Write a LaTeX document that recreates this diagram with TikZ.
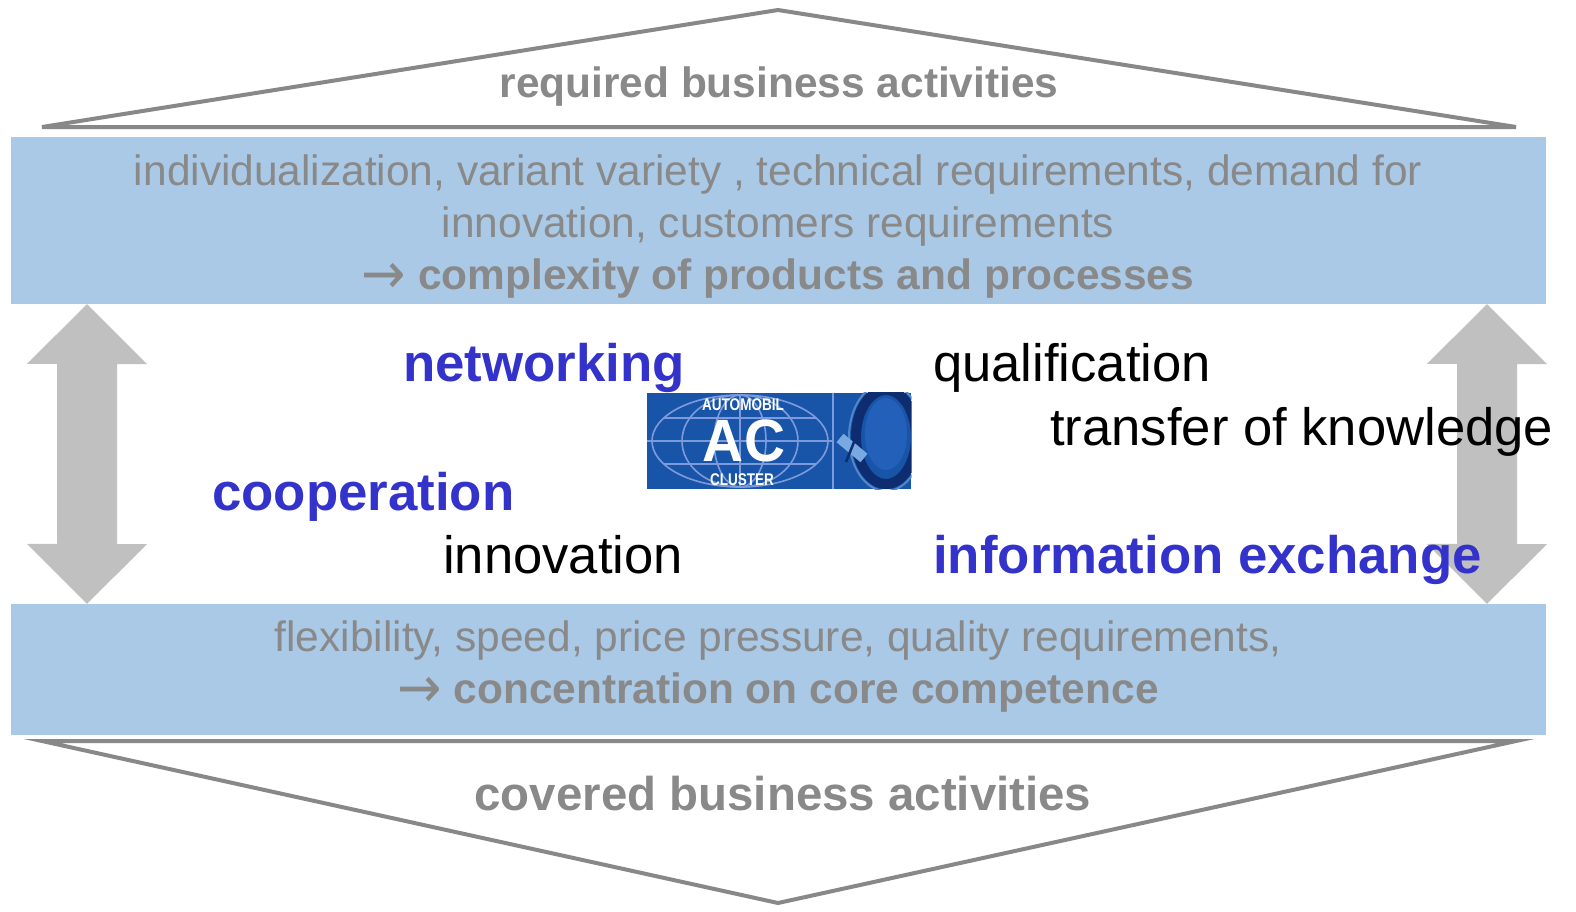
\documentclass[tikz,border=0pt]{standalone}
\usepackage{amsmath, amssymb, graphicx}
\usepackage{fontspec}
\setmainfont{Liberation Sans}
\newfontfamily\arrowfont{DejaVu Sans}
\usepackage{tikz}
\usetikzlibrary{shapes,arrows}
\usetikzlibrary{calc}
\usetikzlibrary{positioning}
\definecolor{bandblue}{RGB}{169,201,230}
\definecolor{linegray}{RGB}{136,136,136}
\definecolor{textgray}{RGB}{137,137,137}
\definecolor{arrowgray}{RGB}{192,192,192}
\definecolor{netblue}{RGB}{51,51,204}
\definecolor{logoblue}{RGB}{24,84,168}
\definecolor{gridblue}{RGB}{125,155,220}
\definecolor{rimnavy}{RGB}{14,44,112}
\definecolor{faceblue}{RGB}{34,96,186}
\definecolor{spokeblue}{RGB}{120,170,225}
\tikzstyle{band} = [fill=bandblue, rectangle, inner sep=0pt, minimum width=1535bp]
\tikzstyle{roof} = [draw=linegray, line width=4bp, line join=miter]
\tikzstyle{updown} = [fill=arrowgray, draw=none]
\tikzstyle{headline} = [anchor=base, inner sep=0pt, text=textgray,
    font=\fontsize{42.6}{50}\selectfont\bfseries]
\tikzstyle{needstext} = [anchor=base, inner sep=0pt, text=textgray,
    font=\fontsize{42.6}{50}\selectfont]
\tikzstyle{keyword} = [anchor=base west, inner sep=0pt, text=netblue,
    font=\fontsize{53}{60}\selectfont\bfseries]
\tikzstyle{topic} = [anchor=base west, inner sep=0pt, text=black,
    font=\fontsize{52.8}{60}\selectfont]
\tikzstyle{grid} = [draw=gridblue, line width=1.6bp]
\tikzstyle{logotext} = [inner sep=0pt, text=white]
\newcommand{\thento}{{\arrowfont\mdseries\raisebox{-4bp}{\scalebox{1.25}[1.35]{→}}}}

\begin{document}
\begin{tikzpicture}[x=1bp, y=-1bp, >=latex']
    \useasboundingbox (0,0) rectangle (1576,911);
    % We start by placing the bands
    \node [band, minimum height=167bp] (needs) at (778.5,220.5) {};
    \node [band, minimum height=131bp] (offers) at (778.5,669.5) {};

    % roof and floor
    \coordinate (roofL) at (42,127);
    \coordinate (roofTop) at (778,10);
    \coordinate (roofR) at (1516,127);
    \draw [roof] (roofL) -- (roofTop) -- (roofR) -- cycle;
    \coordinate (floorL) at (42,741);
    \coordinate (floorTip) at (778,903);
    \coordinate (floorR) at (1516,741);
    \draw [roof] (floorL) -- (floorTip) -- (floorR) -- cycle;

    % double arrows between the bands
    \draw [updown] (needs.south -| 87,0) -- ++(60,60) -- ++(-30,0) -- ++(0,180)
        -- ++(30,0) -- (offers.north -| 87,0) -- ++(-60,-60) -- ++(30,0)
        -- ++(0,-180) -- ++(-30,0) -- cycle;
    \draw [updown] (needs.south -| 1487,0) -- ++(60,60) -- ++(-30,0) -- ++(0,180)
        -- ++(30,0) -- (offers.north -| 1487,0) -- ++(-60,-60) -- ++(30,0)
        -- ++(0,-180) -- ++(-30,0) -- cycle;

    % texts
    \node [headline] (required) at (779,97) {required business activities};
    \node [headline, font=\fontsize{47.6}{55}\selectfont\bfseries] (covered) at (783,810) {covered business activities};
    \node [needstext] (needs1) at (778,185) {individualization, variant variety , technical requirements, demand for};
    \node [needstext] (needs2) at ([yshift=-52bp]needs1.base) {innovation, customers requirements};
    \node [needstext, font=\fontsize{42.6}{50}\selectfont\bfseries] (needs3) at ([yshift=-52bp]needs2.base) {\thento{} complexity of products and processes};
    \node [needstext] (offers1) at (778,651) {flexibility, speed, price pressure, quality requirements,};
    \node [needstext, font=\fontsize{42.6}{50}\selectfont\bfseries] (offers2) at ([yshift=-52bp]offers1.base) {\thento{} concentration on core competence};

    \node [keyword] (networking) at (403,381) {networking};
    \node [topic] (qualification) at (933,381) {qualification};
    \node [topic] (transfer) at (1050,445) {transfer of knowledge};
    \node [keyword] (cooperation) at (212,510) {cooperation};
    \node [topic] (innovation) at (443,573) {innovation};
    \node [keyword] (information) at (933,573) {information exchange};

    % the cluster logo
    \node [fill=logoblue, inner sep=0pt, minimum width=186bp, minimum height=96bp] (logo) at (740,441) {};
    \node [fill=logoblue, inner sep=0pt, minimum width=78bp, minimum height=96bp, right=0pt of logo] (wheel) {};
    \begin{scope}
        \clip (logo.south west) rectangle (logo.north east);
        \draw [grid] (740,441) ellipse [x radius=88, y radius=46];
        \draw [grid] (740,441) ellipse [x radius=58, y radius=46];
        \draw [grid] (740,441) ellipse [x radius=26, y radius=46];
        \draw [grid] (logo.west) -- (logo.east);
        \draw [grid] (740,395) -- (740,487);
        \clip (740,441) ellipse [x radius=88, y radius=46];
        \draw [grid] (650,418) -- (830,418);
        \draw [grid] (650,464) -- (830,464);
    \end{scope}
    \node [logotext, font=\fontsize{60}{60}\selectfont\bfseries] (ac) at (744,441) {\scalebox{0.95}[1]{AC}};
    \node [logotext, font=\fontsize{17}{17}\selectfont\bfseries] (automobil) at (743,405) {\scalebox{0.8}[1]{AUTOMOBIL}};
    \node [logotext, font=\fontsize{17}{17}\selectfont\bfseries] (clusterword) at (742,480) {\scalebox{0.8}[1]{CLUSTER}};
    \begin{scope}
        \clip (wheel.south west) rectangle (wheel.north east);
        \draw [draw=rimnavy, line width=10bp] (886,437) ellipse [x radius=30, y radius=47];
        \draw [draw=spokeblue!60!logoblue, line width=2bp] (886,437) ellipse [x radius=37, y radius=54];
        \fill [faceblue] (886,434) ellipse [x radius=21, y radius=36];
        \draw [draw=spokeblue, line width=11bp] (840,438) -- (864,458);
        \draw [draw=rimnavy, line width=2.5bp] (846,462) -- (858,432);
    \end{scope}
    \draw [draw=gridblue, line width=2bp] (logo.north east) -- (logo.south east);
\end{tikzpicture}
\end{document}
